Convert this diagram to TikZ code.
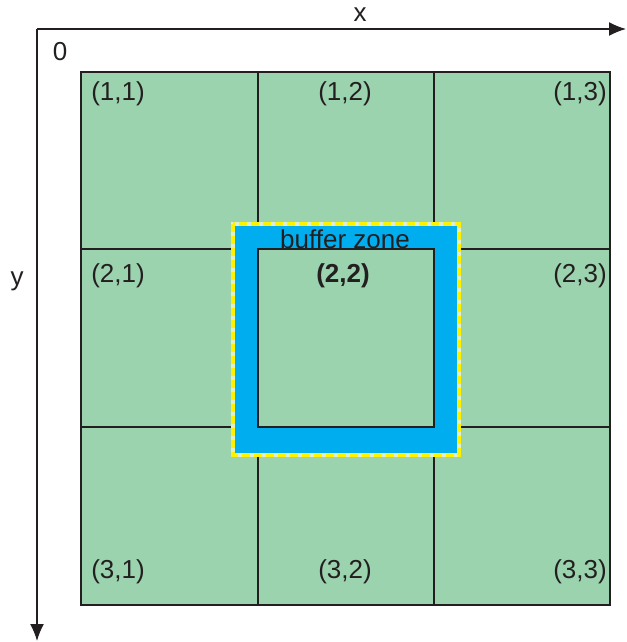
\documentclass[tikz,border=0pt]{standalone}
\usepackage{fontspec}
\setmainfont{Liberation Sans}
\usetikzlibrary{arrows.meta}
\definecolor{cellgreen}{RGB}{155,211,174}
\definecolor{bufblue}{RGB}{0,174,239}
\definecolor{bufyellow}{RGB}{255,242,0}
\definecolor{bufgap}{RGB}{225,238,205}
\definecolor{gridline}{RGB}{35,31,32}
\begin{document}
\begin{tikzpicture}[x=1pt,y=-1pt,
  lbl/.style={font=\fontsize{26}{30}\selectfont, text=gridline, inner sep=0pt},
  axis/.style={draw=gridline, line width=1.5pt, -{Latex[length=17pt,width=14pt]}},
  gline/.style={draw=gridline, line width=1.2pt}]
\useasboundingbox (0,0) rectangle (626,642);
% grid background
\fill[cellgreen] (81,72) rectangle (610,605);
\draw[gline] (258,72) -- (258,605);
\draw[gline] (434,72) -- (434,605);
\draw[gline] (81,249) -- (610,249);
\draw[gline] (81,427) -- (610,427);
\draw[gline] (81,72) rectangle (610,605);
% buffer zone
\fill[bufblue] (233,224) rectangle (459,455);
\fill[cellgreen] (258,249) rectangle (434,427);
\draw[gline] (258,249) rectangle (434,427);
\draw[bufgap, line width=4pt] (233,224) rectangle (459,455);
\draw[bufyellow, line width=4pt, dash pattern=on 8pt off 4pt] (233,224) rectangle (459,455);
% axes
\coordinate (o) at (37,29);
\coordinate (xe) at (626,29);
\coordinate (ye) at (37,641);
\draw[axis] (o) -- (xe);
\draw[axis] (o) -- (ye);
\node[lbl] (xl) at (360,15) {x};
\node[lbl] (yl) at (17,281) {y};
\node[lbl] (zero) at (60,52) {0};
% labels
\node[lbl] (c11) at (118,94) {(1,1)};
\node[lbl] (c12) at (345,94) {(1,2)};
\node[lbl] (c13) at (580,94) {(1,3)};
\node[lbl] (c21) at (118,276) {(2,1)};
\node[lbl,font=\fontsize{26}{30}\selectfont\bfseries] (c22) at (343,276) {(2,2)};
\node[lbl] (c23) at (580,276) {(2,3)};
\node[lbl] (c31) at (118,572) {(3,1)};
\node[lbl] (c32) at (345,572) {(3,2)};
\node[lbl] (c33) at (580,572) {(3,3)};
\node[lbl] (buf) at (345,239) {buffer zone};
\end{tikzpicture}
\end{document}
